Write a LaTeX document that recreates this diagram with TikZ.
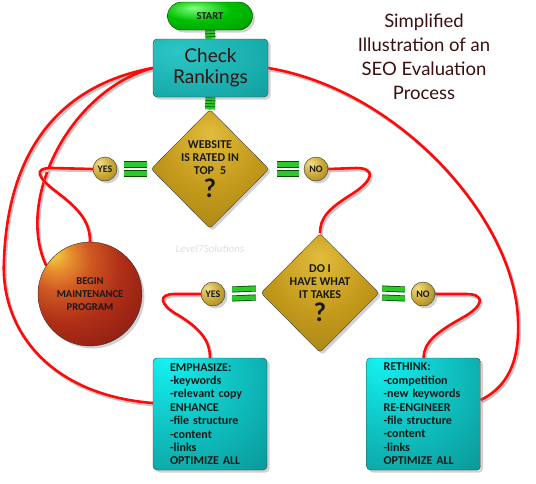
\documentclass[tikz,border=0pt]{standalone}
\usepackage{fontspec}
\setmainfont{Carlito}
\newfontfamily\titlefont{Lato}
\usetikzlibrary{shapes.geometric, shadows, backgrounds}

\definecolor{linkred}{HTML}{FF0A0A}
\definecolor{inkbrown}{HTML}{3A1010}
\definecolor{eqgreen}{HTML}{2CC82C}
% gold
\definecolor{goldA}{HTML}{E2BC3C}
\definecolor{goldB}{HTML}{C49A1C}
\definecolor{goldC}{HTML}{9A7A12}
\definecolor{goldD}{HTML}{56460C}
\definecolor{ballA}{HTML}{F2DE8C}
\definecolor{ballB}{HTML}{C8A838}
\definecolor{ballC}{HTML}{8E7418}
\definecolor{ballD}{HTML}{4E3E08}
% red sphere
\definecolor{redA}{HTML}{F2D840}
\definecolor{redB}{HTML}{E89030}
\definecolor{redC}{HTML}{D05A22}
\definecolor{redD}{HTML}{B03018}
\definecolor{redE}{HTML}{8A1A10}
\definecolor{redF}{HTML}{5A0A08}
\definecolor{redG}{HTML}{3A0404}
% teal
\definecolor{tealA}{HTML}{14F2F2}
\definecolor{tealB}{HTML}{10C4C4}
\definecolor{tealC}{HTML}{0A9494}
\definecolor{tealD}{HTML}{066666}
\definecolor{tealE}{HTML}{043E3E}
\definecolor{rankA}{HTML}{2CC6C6}
\definecolor{rankB}{HTML}{18AAAA}
\definecolor{rankC}{HTML}{0E8A8A}
\definecolor{rankD}{HTML}{075656}

% shadings
\pgfdeclareradialshading{golddiamond}{\pgfpoint{0bp}{15bp}}{color(0bp)=(goldA); color(20bp)=(goldB); color(45bp)=(goldC); color(80bp)=(goldD)}
\pgfdeclareradialshading{goldball}{\pgfpoint{-12bp}{12bp}}{color(0bp)=(ballA); color(22bp)=(ballB); color(50bp)=(ballC); color(80bp)=(ballD)}
\pgfdeclareradialshading{redsphere}{\pgfpoint{-18bp}{20bp}}{color(0bp)=(redA); color(7bp)=(redB); color(15bp)=(redC); color(27bp)=(redD); color(45bp)=(redE); color(65bp)=(redF); color(90bp)=(redG)}
\pgfdeclareradialshading{taskteal}{\pgfpoint{-20bp}{25bp}}{color(0bp)=(tealA); color(25bp)=(tealB); color(55bp)=(tealC); color(85bp)=(tealD); color(110bp)=(tealE)}
\pgfdeclareradialshading{rankteal}{\pgfpoint{-15bp}{15bp}}{color(0bp)=(rankA); color(35bp)=(rankB); color(65bp)=(rankC); color(100bp)=(rankD)}
\pgfdeclareradialshading{startgreen}{\pgfpoint{-10bp}{15bp}}{color(0bp)=(green!50!white); color(20bp)=(green!75!black); color(45bp)=(green!60!black); color(80bp)=(green!35!black)}

\begin{document}
\begin{tikzpicture}[x=1pt, y=-1pt,
    every node/.style={font=\bfseries\fontsize{12}{13.4}\selectfont, text=black!90},
    castshadow/.style={drop shadow={shadow xshift=2.5pt, shadow yshift=-2.5pt, opacity=0.35}},
    startbox/.style={castshadow, shade, shading=startgreen, draw=green!25!black, rounded corners=14pt, minimum width=85pt, minimum height=28pt, font=\bfseries\fontsize{10.5}{10}\selectfont},
    rankbox/.style={castshadow, shade, shading=rankteal, draw=black!75, rounded corners=4pt, minimum width=115pt, minimum height=58pt, align=center, font=\titlefont\fontsize{19}{21}\selectfont, text=inkbrown},
    decision/.style={castshadow, diamond, shade, shading=golddiamond, draw=black!75, rounded corners=3pt, minimum width=118pt, minimum height=119pt, inner sep=0pt, align=center},
    answer/.style={castshadow, circle, shade, shading=goldball, draw=black!80, minimum size=24pt, inner sep=0pt, font=\bfseries\fontsize{10}{10}\selectfont},
    sphere/.style={castshadow, circle, shade, shading=redsphere, draw=black!80, minimum size=104pt, align=center, font=\bfseries\fontsize{10.5}{13.4}\selectfont},
    taskbox/.style={castshadow, shade, shading=taskteal, draw=black!75, rounded corners=4pt, text width=80pt, inner xsep=17pt, minimum height=112pt, align=left},
    link/.style={draw=linkred, line width=2.6pt, preaction={draw=black!22, line width=2.8pt, transform canvas={xshift=1.5pt, yshift=-2pt}}},
    eqbar/.style={draw=green!30!black, line width=0.8pt, double=eqgreen, double distance=4.5pt},
    ladder/.style={draw=eqgreen, line width=10pt, postaction={draw=green!45!black, line width=10pt, dash pattern=on 0.9pt off 2.1pt}},
]
    \begin{scope}[on background layer]
        \fill[white] (0,0) rectangle (536,483);
    \end{scope}
    \useasboundingbox (0,0) rectangle (536,483);

    % Title
    \node[font=\titlefont\fontsize{18.5}{24}\selectfont, text=inkbrown, align=center] (title) at (424,57) {Simplified\\Illustration of an\\SEO Evaluation\\Process};

    % Start and first check
    \node[startbox] (start) at (210,16) {START};
    \node[rankbox] (check) at (210.5,68) {Check\\Rankings};

    % First decision
    \node[decision] (web) at (210,169) {WEBSITE\\IS RATED IN\\TOP\enspace5\\[3pt]{\fontsize{27}{22}\selectfont ?}};
    \node[answer] (yes1) at (105,169) {YES};
    \node[answer] (no1) at (316,169) {NO};

    % Maintenance
    \node[sphere] (sphere) at (90,294) {BEGIN\\MAINTENANCE\\PROGRAM};
    \node[font=\itshape\fontsize{11}{12}\selectfont, text=black!12] (mark) at (210,249) {Level7Solutions};

    % Second decision
    \node[decision] (dec2) at (320,293) {DO I\\HAVE WHAT\\IT TAKES\\[3pt]{\fontsize{27}{22}\selectfont ?}};
    \node[answer] (yes2) at (213,294) {YES};
    \node[answer] (no2) at (423,294) {NO};

    % Action boxes
    \node[taskbox] (emph) at (210,414) {EMPHASIZE:\\-keywords\\-relevant copy\\ENHANCE\\-file structure\\-content\\-links\\OPTIMIZE ALL};
    \node[taskbox] (rethink) at (423.5,414) {RETHINK:\\-competition\\-new keywords\\RE-ENGINEER\\-file structure\\-content\\-links\\OPTIMIZE ALL};

    % Connectors
    \begin{scope}[on background layer]
        \draw[ladder] (start.south) -- (check.north);
        \draw[ladder] (check.south) -- (web.north);
        \foreach \dy in {-4.5,4.5} {
            \draw[eqbar] ([xshift=7pt, yshift=\dy pt]yes1.east) -- ([xshift=-4pt, yshift=\dy pt]web.west);
            \draw[eqbar] ([xshift=8pt, yshift=\dy pt]web.east) -- ([xshift=-5pt, yshift=\dy pt]no1.west);
            \draw[eqbar] ([xshift=7pt, yshift=\dy pt]yes2.east) -- ([xshift=-5pt, yshift=\dy pt]dec2.west);
            \draw[eqbar] ([xshift=3pt, yshift=\dy pt]dec2.east) -- ([xshift=-6pt, yshift=\dy pt]no2.west);
        }
        \draw[link] (check.east) .. controls (400,90) and (515,220) .. (518,320) .. controls (520,365) and (505,388) .. ([yshift=14pt]rethink.east);
        \draw[link] (check.west) .. controls (60,85) and (8,150) .. (4,260) .. controls (0,330) and (50,395) .. ([yshift=11pt]emph.west);
        \draw[link] (check.west) .. controls (70,90) and (15,200) .. (sphere.147);
        \draw[link] (yes1.west) -- (52,168) .. controls (32,168) and (38,178) .. (58,193) .. controls (82,211) and (90,224) .. (sphere.north);
        \draw[link] (no1.east) -- (356,168) .. controls (376,168) and (374,180) .. (352,194) .. controls (328,209) and (320,218) .. (dec2.north);
        \draw[link] (yes2.west) -- (175,294) .. controls (157,294) and (160,305) .. (178,315) .. controls (203,330) and (210,343) .. (emph.north);
        \draw[link] (no2.east) -- (466,294) .. controls (486,294) and (484,306) .. (462,318) .. controls (435,333) and (424,343) .. (rethink.north);
    \end{scope}
\end{tikzpicture}
\end{document}
